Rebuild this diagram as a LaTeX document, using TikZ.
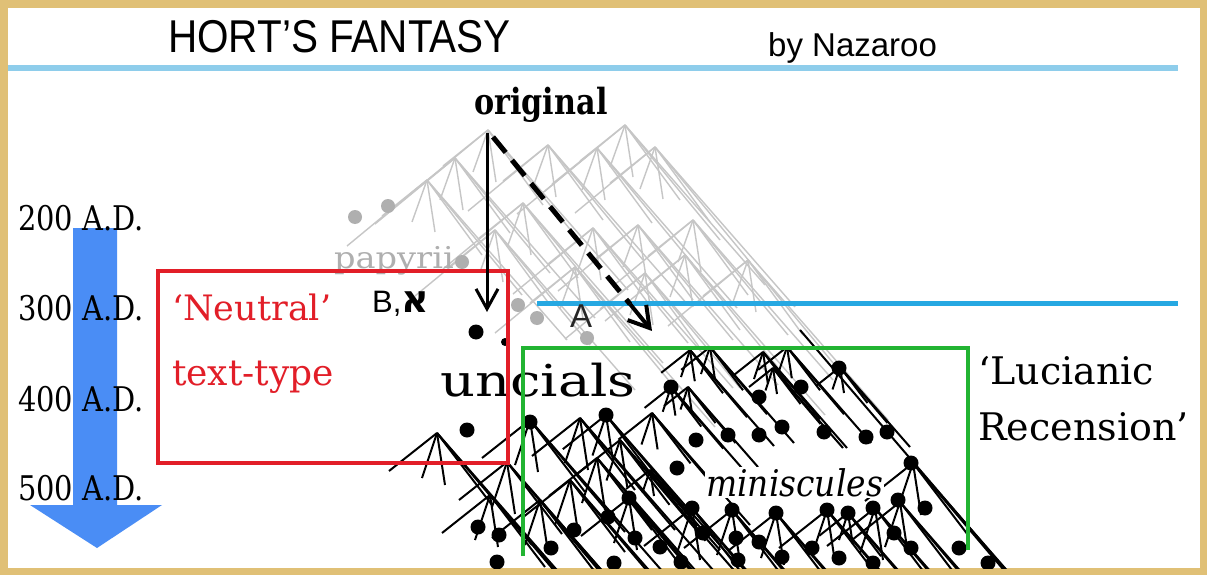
\documentclass[tikz,border=0pt]{standalone}
\usepackage{fontspec}
\usetikzlibrary{arrows.meta}
\newfontfamily\sansf{Liberation Sans}
\newfontfamily\serf{DejaVu Serif}
\newfontfamily\hebf{DejaVu Sans}
\definecolor{framecol}{RGB}{224,192,118}
\definecolor{lineblue}{RGB}{142,205,235}
\definecolor{midblue}{RGB}{38,168,226}
\definecolor{arrowblue}{RGB}{74,141,245}
\definecolor{redbox}{RGB}{226,30,40}
\definecolor{greenbox}{RGB}{34,180,50}
\definecolor{fangray}{RGB}{198,198,198}
\definecolor{dotgray}{RGB}{175,175,175}
\tikzset{
  graytree/.style={draw=fangray, line width=1.4pt},
  blacktree/.style={draw=black, line width=2pt},
  graydot/.style={fill=dotgray},
  blackdot/.style={fill=black},
  txt/.style={inner sep=0pt, anchor=base west},
  boxline/.style={line width=3.2pt},
}
\begin{document}
\begin{tikzpicture}[x=1pt,y=-1pt]
\fill[framecol] (0,0) rectangle (1207,575);
\fill[white] (8,8) rectangle (1200,568);
\useasboundingbox (0,0) rectangle (1207,575);

% top rule
\draw[lineblue, line width=6pt] (8,68) -- (1178,68);

% time arrow
\fill[arrowblue] (73,228) -- (117,228) -- (117,505) -- (162,505) -- (97,548) -- (30,505) -- (73,505) -- cycle;

\begin{scope}
\clip (8,8) rectangle (1200,568);
% gray fans
\foreach \x/\y in {488/130,455/158,427/180,548/145,523/203,495/230,625/125,597/148,655/147,593/228,638/225,693/220,748/260,685/255,575/267,645/273}{
  \foreach \dx/\dy in {-80/66,-45/36,-15/42,8/52,55/75,95/115,140/160}
    \draw[graytree] (\x,\y) -- ++(\dx,\dy);
}
\foreach \x/\y in {355/217,388/206,462/262,518/305,537/318,587/338}
  \fill[graydot] (\x,\y) circle (7);
% mid rule
\draw[midblue, line width=5pt] (537,303) -- (1178,303);
% black fans: apex x / apex y / length factor
\foreach \x/\y/\s in {
  690/350/0.6,710/347/0.6,763/352/0.6,787/347/0.6,773/368/0.5,840/367/0.5,
  688/387/0.5,671/387/0.55,652/413/0.7,606/415/0.9,580/418/1,530/420/1,
  437/433/1,507/462/1,490/495/1,570/480/1,597/458/1,540/500/1,620/440/0.9,650/470/0.5,
  629/498/1,692/508/1,732/510/1,776/513/1,827/510/1,875/508/1,900/502/1,913/463/1,848/513/0.6}{
  \foreach \dx/\dy in {-48/38,-15/45,8/52,55/72,95/112,140/160}
    \draw[blacktree] (\x,\y) -- ++({\s*\dx},{\s*\dy});
}
\draw[blacktree] (800,330) -- (1010,575);
\foreach \x/\y in {476/332,467/430,530/422,606/415,671/387,759/397,801/387,839/368,696/440,728/435,759/435,782/427,824/432,866/437,887/432,911/463,677/468,629/498,608/517,692/508,732/510,776/513,827/510,848/513,873/508,898/500,925/508,478/527,499/535,497/562,574/530,551/548,614/563,635/538,660/547,681/562,703/533,736/538,738/560,759/542,782/557,812/548,839/558,873/563,894/533,911/548,959/548,988/563}
  \fill[blackdot] (\x,\y) circle (7.5);
\fill[blackdot] (505,342) circle (4);
\end{scope}

% texts
\node[txt] (title) at (168,53) {\sansf\fontsize{46}{50}\selectfont\scalebox{0.88}[1]{HORT’S FANTASY}};
\node[txt] (author) at (768,57) {\sansf\fontsize{33}{36}\selectfont by Nazaroo};
\node[txt] (y200) at (18,230) {\serf\fontsize{34}{36}\selectfont\scalebox{0.85}[1]{200 A.D.}};
\node[txt] (y300) at (18,320) {\serf\fontsize{34}{36}\selectfont\scalebox{0.85}[1]{300 A.D.}};
\node[txt] (y400) at (18,411) {\serf\fontsize{34}{36}\selectfont\scalebox{0.85}[1]{400 A.D.}};
\node[txt] (y500) at (18,500) {\serf\fontsize{34}{36}\selectfont\scalebox{0.85}[1]{500 A.D.}};
\node[txt, text=redbox] (neutral) at (172,320) {\serf\fontsize{35}{38}\selectfont ‘Neutral’};
\node[txt, text=redbox] (texttype) at (172,385) {\serf\fontsize{36}{38}\selectfont text-type};
\node[txt] (lucianic) at (978,384) {\serf\fontsize{38}{42}\selectfont ‘Lucianic};
\node[txt] (recension) at (978,440) {\serf\fontsize{38}{42}\selectfont Recension’};
\node[txt] (bx) at (372,312) {\sansf\fontsize{31}{33}\selectfont B,{\hebf\bfseries\fontsize{38}{40}\selectfont א}};
\node[txt, text=black!85] (A) at (570,327) {\sansf\fontsize{33}{34}\selectfont A};
\node[txt] (original) at (474,115) {\serf\bfseries\fontsize{36}{38}\selectfont\scalebox{0.84}[1]{original}};
\node[txt] (uncials) at (440,396) {\serf\fontsize{40}{44}\selectfont\scalebox{1.36}[1.1]{uncials}};
\node[txt, text=dotgray] (papyrii) at (334,268) {\serf\fontsize{30}{32}\selectfont\scalebox{1.12}[1]{papyrii}};
\node[txt, fill=white, inner sep=1pt] (miniscules) at (705,496) {\serf\itshape\fontsize{35}{38}\selectfont\scalebox{0.94}[1.05]{miniscules}};

% boxes
\draw[redbox, boxline] (158,271) rectangle (508,463);
\draw[greenbox, boxline] (523,556) -- (523,348) -- (968,348) -- (968,550);

% arrows from the original
\coordinate (o1) at (487,133);
\coordinate (o1e) at (487,312);
\coordinate (o2) at (493,137);
\coordinate (o2m) at (630,304);
\coordinate (o2e) at (652,331);
\draw[line width=3pt, -{Straight Barb[length=20pt,width=22pt,line width=3pt]}] (o1) -- (o1e);
\draw[line width=5pt, dash pattern=on 20pt off 10pt] (o2) -- (o2m);
\draw[line width=4pt, -{Straight Barb[length=20pt,width=24pt,line width=4pt]}] (o2m) -- (o2e);
\end{tikzpicture}
\end{document}
